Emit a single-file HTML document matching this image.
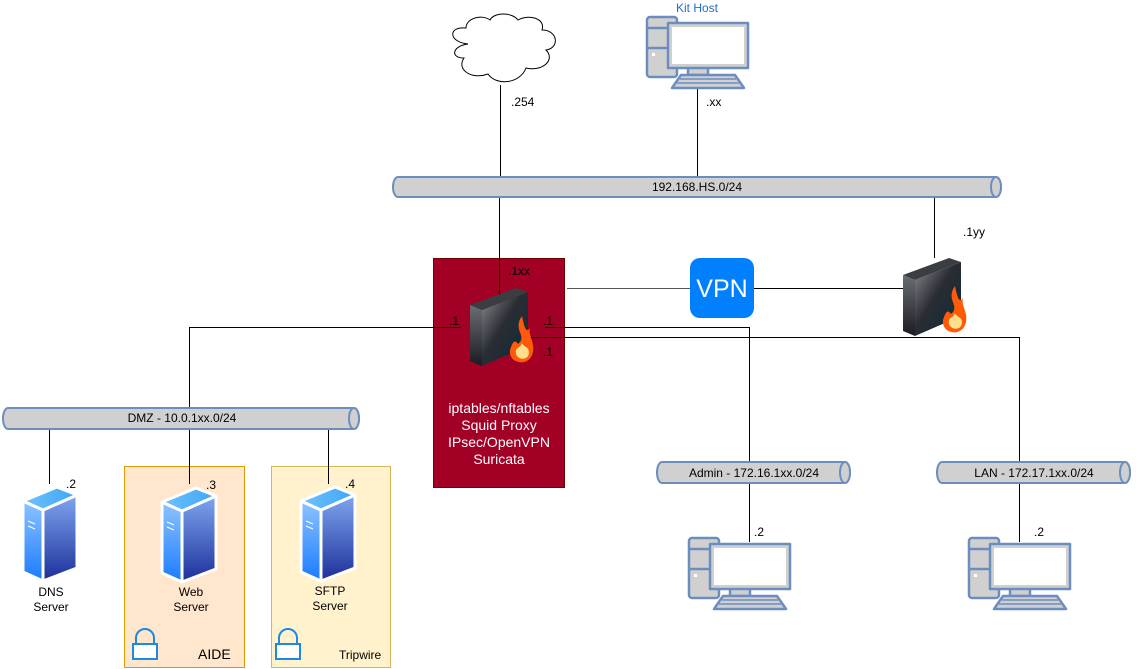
<!DOCTYPE html>
<html><head><meta charset="utf-8"><style>
html,body{margin:0;padding:0;background:#fff;}
svg{display:block;font-family:"Liberation Sans",Arial,sans-serif;}
</style></head><body>
<svg width="1136" height="669" viewBox="0 0 1136 669" xmlns="http://www.w3.org/2000/svg">
<defs>
<linearGradient id="srvR" x1="0" y1="0" x2="0" y2="1"><stop offset="0" stop-color="#7fa6f0"/><stop offset="1" stop-color="#1c2f9a"/></linearGradient>
<linearGradient id="srvL" x1="0" y1="0" x2="0" y2="1"><stop offset="0" stop-color="#8fc3ff"/><stop offset="1" stop-color="#1a7bff"/></linearGradient>
<linearGradient id="srvT" x1="0" y1="0" x2="1" y2="0"><stop offset="0" stop-color="#6ec2ff"/><stop offset="1" stop-color="#3fa6f5"/></linearGradient>
<linearGradient id="fwR" x1="0" y1="0" x2="1" y2="1"><stop offset="0" stop-color="#8a8d92"/><stop offset="0.45" stop-color="#2a2d33"/><stop offset="1" stop-color="#0a2a3a"/></linearGradient>
<linearGradient id="fwL" x1="0" y1="0" x2="0" y2="1"><stop offset="0" stop-color="#6a6d72"/><stop offset="1" stop-color="#1a1c20"/></linearGradient>
<g id="server">
<polygon points="0,15 20,24 20,95 0,86" fill="url(#srvL)" stroke="#fff" stroke-width="3" stroke-linejoin="round"/>
<polygon points="20,24 54,9 54,82 20,95" fill="url(#srvR)" stroke="#fff" stroke-width="3" stroke-linejoin="round"/>
<polygon points="0,15 34,1 54,9 20,24" fill="url(#srvT)" stroke="#fff" stroke-width="3" stroke-linejoin="round"/>
<line x1="5" y1="35" x2="12" y2="38" stroke="#fff" stroke-width="1.2"/>
<line x1="5" y1="40" x2="12" y2="43" stroke="#fff" stroke-width="1.2"/>
</g>
<g id="fw">
<polygon points="0,17 12,22 12,78 0,73" fill="url(#fwL)"/>
<polygon points="12,22 58,4 58,58 12,78" fill="url(#fwR)"/>
<polygon points="0,17 46,0 58,4 12,22" fill="#3a3d42"/>
<path d="M52,28 C42,42 58,48 48,56 C44,50 42,56 40,62 C38,76 60,80 63,64 C65,54 58,48 60,40 C56,46 54,38 52,28Z" fill="#ff5a0a"/>
<path d="M46,62 C44,72 58,74 59,65 C59,58 54,60 52,55 C50,60 49,58 46,62Z" fill="#ffe08a"/>
</g>
<g id="pc" fill="#d0d0d0" stroke="#6c8ebf" stroke-width="2.5" stroke-linejoin="round">
<rect x="0" y="0" width="30" height="60" rx="3"/>
<line x1="0" y1="11" x2="30" y2="11"/><line x1="0" y1="31" x2="30" y2="31"/>
<rect x="5" y="36" width="3" height="3" fill="#fff" stroke="none"/>
<rect x="41" y="50" width="20" height="8"/>
<rect x="21" y="6" width="80" height="45"/>
<rect x="25" y="10" width="72" height="37" fill="#fff" stroke="none"/>
<polygon points="34,58 88,58 97,71 25,71"/>
<line x1="33" y1="62" x2="89" y2="62" stroke-width="1.5"/>
<line x1="30" y1="66" x2="92" y2="66" stroke-width="1.5"/>
</g>
</defs>

<!-- lines -->
<g stroke="#000" stroke-width="1" fill="none">
<line x1="500.5" y1="85" x2="500.5" y2="177"/>
<line x1="697.5" y1="87" x2="697.5" y2="177"/>
<line x1="499.5" y1="197" x2="499.5" y2="297"/>
<line x1="934.5" y1="197" x2="934.5" y2="258"/>
<line x1="567" y1="288.5" x2="690" y2="288.5" stroke="#555"/>
<line x1="754" y1="288.5" x2="903" y2="288.5"/>
<polyline points="461,327.5 189.5,327.5 189.5,407"/>
<polyline points="545,327.5 749.5,327.5 749.5,462"/>
<polyline points="527,337.5 1019.5,337.5 1019.5,462"/>
<line x1="49.5" y1="429" x2="49.5" y2="484"/>
<line x1="189.5" y1="429" x2="189.5" y2="484"/>
<line x1="328.5" y1="429" x2="328.5" y2="484"/>
<line x1="749.5" y1="483" x2="749.5" y2="542"/>
<line x1="1019.5" y1="483" x2="1019.5" y2="542"/>
</g>

<!-- cloud -->
<path d="M468,44 C448,42 448,26 466,28 C466,18 482,14 490,20 C494,12 512,12 518,20 C528,14 546,18 542,30 C558,30 560,48 546,50 C556,60 542,72 526,68 C520,84 496,86 488,74 C472,80 456,70 464,58 C450,58 452,46 468,44Z" fill="#fff" stroke="#000" stroke-width="1"/>

<!-- kit host -->
<text x="697" y="12" font-size="12" fill="#1e6fd0" text-anchor="middle">Kit Host</text>
<use href="#pc" x="647" y="17"/>
<text x="511" y="106" font-size="12">.254</text>
<text x="706" y="106" font-size="12">.xx</text>

<!-- buses -->
<g fill="#d0d0d0" stroke="#6c8ebf" stroke-width="2">
<path d="M398,177 H996 A5,10 0 0 1 996,197 H398 A5,10 0 0 1 398,177Z"/>
<ellipse cx="996" cy="187" rx="5" ry="10"/>
<path d="M8,408 H354 A5,10.5 0 0 1 354,429 H8 A5,10.5 0 0 1 8,408Z"/>
<ellipse cx="354" cy="418.5" rx="5" ry="10.5"/>
<path d="M662,462 H845 A5,10.5 0 0 1 845,483 H662 A5,10.5 0 0 1 662,462Z"/>
<ellipse cx="845" cy="472.5" rx="5" ry="10.5"/>
<path d="M942,462 H1125 A5,10.5 0 0 1 1125,483 H942 A5,10.5 0 0 1 942,462Z"/>
<ellipse cx="1125" cy="472.5" rx="5" ry="10.5"/>
</g>
<g font-size="12" text-anchor="middle" fill="#000">
<text x="697" y="191">192.168.HS.0/24</text>
<text x="182" y="422">DMZ - 10.0.1xx.0/24</text>
<text x="754" y="477">Admin - 172.16.1xx.0/24</text>
<text x="1034" y="477">LAN - 172.17.1xx.0/24</text>
</g>

<!-- red firewall box -->
<rect x="433.5" y="258.5" width="131" height="229" fill="#a20025" stroke="#6f0000"/>
<line x1="499.5" y1="258" x2="499.5" y2="297" stroke="#000"/>
<line x1="433" y1="327.5" x2="461" y2="327.5" stroke="#000"/>
<line x1="545" y1="327.5" x2="565" y2="327.5" stroke="#000"/>
<line x1="527" y1="337.5" x2="565" y2="337.5" stroke="#000"/>
<use href="#fw" x="470" y="288"/>
<g font-size="12" fill="#000">
<text x="508" y="275">.1xx</text>
<text x="449" y="325">.1</text>
<text x="543" y="325">.1</text>
<text x="543" y="356">.1</text>
</g>
<g font-size="14" fill="#fff" text-anchor="middle">
<text x="499" y="413">iptables/nftables</text>
<text x="499" y="430">Squid Proxy</text>
<text x="499" y="447">IPsec/OpenVPN</text>
<text x="499" y="464">Suricata</text>
</g>

<!-- VPN -->
<rect x="690" y="258" width="64" height="60" rx="10" fill="#007fff"/>
<text x="722" y="297" font-size="25" fill="#fff" text-anchor="middle">VPN</text>

<!-- right firewall -->
<use href="#fw" x="903" y="258"/>
<text x="963" y="236" font-size="12">.1yy</text>

<!-- server boxes -->
<rect x="124.5" y="466.5" width="120" height="201" fill="#ffe6cc" stroke="#d79b00"/>
<rect x="271.5" y="466.5" width="119" height="201" fill="#fff2cc" stroke="#d6b656"/>
<line x1="189.5" y1="466" x2="189.5" y2="484" stroke="#000"/>
<line x1="328.5" y1="466" x2="328.5" y2="484" stroke="#000"/>

<use href="#server" x="23" y="486"/>
<use href="#server" x="162" y="487"/>
<use href="#server" x="301" y="486"/>
<g font-size="12" fill="#000">
<text x="66" y="488">.2</text>
<text x="206" y="489">.3</text>
<text x="345" y="488">.4</text>
</g>
<g font-size="12" text-anchor="middle" fill="#000">
<text x="51" y="596">DNS</text><text x="51" y="611">Server</text>
<text x="191" y="596">Web</text><text x="191" y="611">Server</text>
<text x="330" y="595">SFTP</text><text x="330" y="610">Server</text>
</g>
<!-- locks -->
<g fill="#fff" stroke="#1e88e5" stroke-width="2">
<path d="M136,644 V638 A9,9 0 0 1 154,638 V644" fill="none"/>
<rect x="133" y="644" width="24" height="15"/>
<path d="M279,644 V638 A9,9 0 0 1 297,638 V644" fill="none"/>
<rect x="276" y="644" width="24" height="15"/>
</g>
<text x="198" y="659" font-size="14">AIDE</text>
<text x="339" y="659" font-size="12">Tripwire</text>

<!-- workstations -->
<use href="#pc" x="689" y="538"/>
<use href="#pc" x="969" y="538"/>
<text x="754" y="536" font-size="12">.2</text>
<text x="1034" y="536" font-size="12">.2</text>
</svg>
</body></html>
